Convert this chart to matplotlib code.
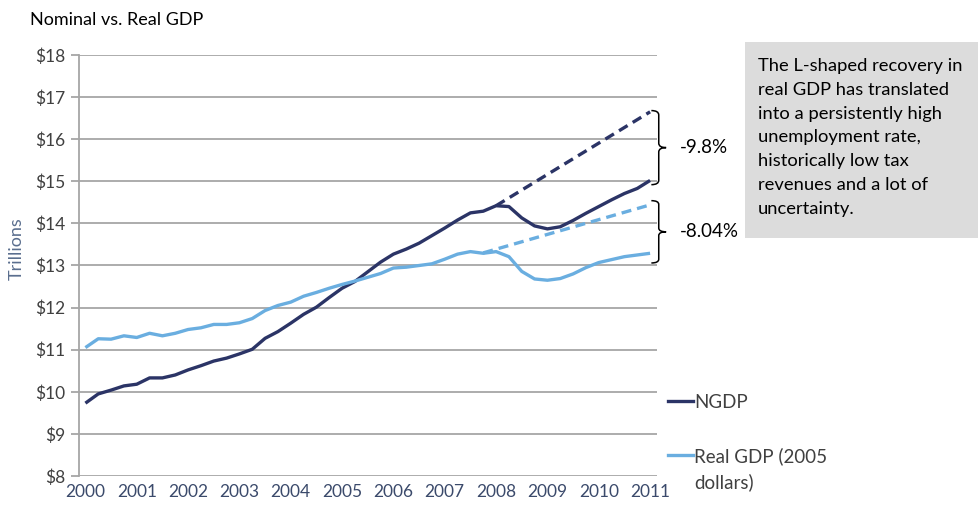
import numpy as np
import matplotlib
matplotlib.use('Agg')
import matplotlib.pyplot as plt
from matplotlib.path import Path
from matplotlib.patches import PathPatch

# --- datos (trimestrales, 2000T1 - 2011T1, billones de USD) ---
ngdp = [9.73, 9.95, 10.04, 10.14, 10.18, 10.33, 10.33, 10.40, 10.52, 10.62,
        10.73, 10.80, 10.90, 11.01, 11.27, 11.43, 11.63, 11.84, 12.01, 12.24,
        12.46, 12.62, 12.85, 13.08, 13.27, 13.39, 13.53, 13.71, 13.89, 14.08,
        14.25, 14.29, 14.42, 14.40, 14.13, 13.94, 13.87, 13.92, 14.07, 14.24,
        14.40, 14.56, 14.71, 14.83, 15.02]
real_gdp = [11.05, 11.26, 11.25, 11.33, 11.29, 11.39, 11.33, 11.39, 11.48, 11.52,
            11.60, 11.60, 11.64, 11.74, 11.93, 12.05, 12.13, 12.27, 12.36, 12.46,
            12.55, 12.63, 12.72, 12.81, 12.94, 12.96, 13.00, 13.04, 13.15, 13.27,
            13.33, 13.29, 13.33, 13.21, 12.86, 12.68, 12.65, 12.69, 12.80, 12.95,
            13.07, 13.14, 13.21, 13.25, 13.29]
# tendencias (inicio y fin, indice de trimestre)
ngdp_trend_q = [32, 44]
ngdp_trend = [14.42, 16.65]
real_trend_q = [31, 44]
real_trend = [13.30, 14.44]
years = list(range(2000, 2012))
gap_labels = ['-9.8%', '-8.04%']

NAVY = '#2b3466'
LIGHT = '#6aaee0'
GRID = '#a6a6a6'

plt.rcParams['font.family'] = ['Lato', 'DejaVu Sans']

fig = plt.figure(figsize=(9.79, 5.08), dpi=100)
ax = fig.add_axes([79 / 979, 1 - 476 / 508, (656.5 - 79) / 979, (476 - 55) / 508])

q = np.arange(len(ngdp))
ax.plot(q, ngdp, color=NAVY, lw=2.4, solid_capstyle='butt', zorder=3)
ax.plot(q, real_gdp, color=LIGHT, lw=2.4, solid_capstyle='butt', zorder=3)
ax.plot(ngdp_trend_q, ngdp_trend, color=NAVY, lw=2.4, ls=(0, (3, 1.8)), zorder=2)
ax.plot(real_trend_q, real_trend, color=LIGHT, lw=2.4, ls=(0, (3, 1.8)), zorder=2)

ax.set_xlim(-0.5, len(ngdp) - 0.5)
ax.set_ylim(8, 18)
ax.set_yticks(range(8, 19))
ax.set_yticklabels(['$%d' % v for v in range(8, 19)])
ax.set_xticks(np.arange(0, len(ngdp), 4))
ax.set_xticklabels([str(y) for y in years])
ax.grid(axis='y', color=GRID, lw=1.3)
ax.set_axisbelow(True)
for s in ['top', 'right', 'bottom']:
    ax.spines[s].set_visible(False)
ax.spines['left'].set_color(GRID)
ax.spines['left'].set_linewidth(1.3)
ax.tick_params(axis='y', colors=GRID, length=6, width=1.3, labelcolor='#404040',
               labelsize=12.5, pad=4)
ax.tick_params(axis='x', length=0, labelcolor='#3b4a6b', labelsize=12.5, pad=6)
ax.set_ylabel('Trillions', color='#5a6e8e', fontsize=13)
ax.yaxis.set_label_coords(-0.094, 0.54)

fig.text(30 / 979, 1 - 20 / 508, 'Nominal vs. Real GDP', fontsize=13,
         color='black', va='center', ha='left')


def llave(ax, x0, w, ytop, ybot):
    # llave "}" dibujada con curvas
    ym = (ytop + ybot) / 2
    xm = x0 + w * 0.5
    r = (ytop - ybot) * 0.06
    verts = [(x0, ytop), (xm, ytop), (xm, ytop - r),
             (xm, ym + r),
             (xm, ym), (x0 + w, ym),
             (xm, ym), (xm, ym - r),
             (xm, ybot + r),
             (xm, ybot), (x0, ybot)]
    codes = [Path.MOVETO, Path.CURVE3, Path.CURVE3, Path.LINETO,
             Path.CURVE3, Path.CURVE3, Path.CURVE3, Path.CURVE3,
             Path.LINETO, Path.CURVE3, Path.CURVE3]
    ax.add_patch(PathPatch(Path(verts, codes), fc='none', ec='black', lw=1.1,
                           clip_on=False))


llave(ax, 44.1, 1.15, 16.68, 14.92)
llave(ax, 44.1, 1.15, 14.54, 13.06)
ax.text(46.3, (16.68 + 14.92) / 2, gap_labels[0], fontsize=13.5, va='center', ha='left')
ax.text(46.3, (14.54 + 13.06) / 2, gap_labels[1], fontsize=13.5, va='center', ha='left')

# leyenda a mano
fig.add_artist(plt.Line2D([668 / 979, 693 / 979], [1 - 401 / 508] * 2, color=NAVY, lw=2.4))
fig.add_artist(plt.Line2D([668 / 979, 693 / 979], [1 - 455 / 508] * 2, color=LIGHT, lw=2.4))
fig.text(694 / 979, 1 - 402 / 508, 'NGDP', fontsize=13.5, color='#404040', va='center')
fig.text(694 / 979, 1 - 456 / 508, 'Real GDP (2005', fontsize=13.5, color='#404040', va='center')
fig.text(694 / 979, 1 - 482 / 508, 'dollars)', fontsize=13.5, color='#404040', va='center')

# recuadro gris
fig.patches.append(plt.Rectangle((745 / 979, 1 - 238 / 508), 234 / 979, 196 / 508,
                                 transform=fig.transFigure, fc='#dcdcdc', ec='none'))
fig.text(758 / 979, 1 - 58 / 508,
         'The L-shaped recovery in\nreal GDP has translated\ninto a persistently high\n'
         'unemployment rate,\nhistorically low tax\nrevenues and a lot of\nuncertainty.',
         fontsize=13.2, va='top', ha='left', linespacing=1.6, color='black')

fig.savefig('out.png', dpi=100)
